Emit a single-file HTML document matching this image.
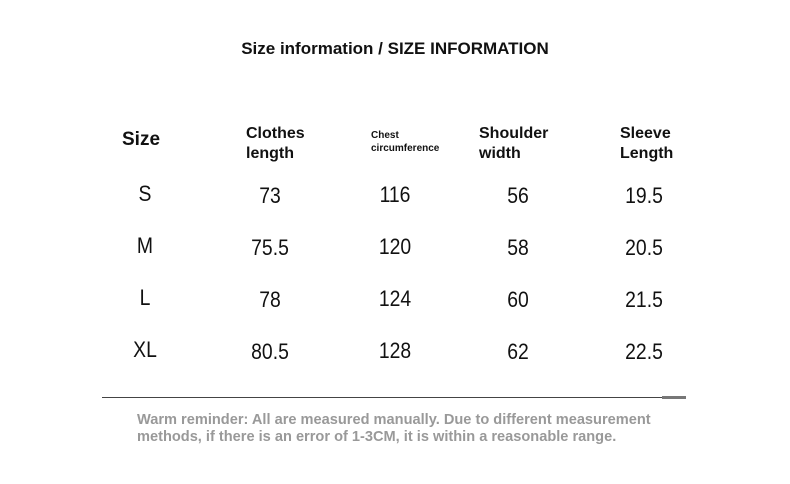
<!DOCTYPE html>
<html><head><style>
body{margin:0;width:790px;height:484px;background:#fff;position:relative;overflow:hidden;font-family:"Liberation Sans",sans-serif;color:#111}
.a{position:absolute;white-space:nowrap}
.h{font-weight:bold;font-size:16px;line-height:20px}
.n{font-size:22px;transform:translate(-50%,-50%) scaleX(0.88);}
</style></head><body>
<div class="a" style="left:0;width:790px;text-align:center;top:39px;font-weight:bold;font-size:17px">Size information / SIZE INFORMATION</div>
<div class="a" style="left:122px;top:129px;font-weight:bold;font-size:19px">Size</div>
<div class="a h" style="left:246px;top:124px">Clothes<br>length</div>
<div class="a" style="left:371px;top:129px;font-weight:bold;font-size:10px;line-height:13px">Chest<br>circumference</div>
<div class="a h" style="left:479px;top:124px">Shoulder<br>width</div>
<div class="a h" style="left:620px;top:124px">Sleeve<br>Length</div>

<div class="a n" style="left:145px;top:194px">S</div>
<div class="a n" style="left:270px;top:196px">73</div>
<div class="a n" style="left:395px;top:195px">116</div>
<div class="a n" style="left:518px;top:196px">56</div>
<div class="a n" style="left:644px;top:196px">19.5</div>

<div class="a n" style="left:145px;top:246px">M</div>
<div class="a n" style="left:270px;top:248px">75.5</div>
<div class="a n" style="left:395px;top:247px">120</div>
<div class="a n" style="left:518px;top:248px">58</div>
<div class="a n" style="left:644px;top:248px">20.5</div>

<div class="a n" style="left:145px;top:298px">L</div>
<div class="a n" style="left:270px;top:300px">78</div>
<div class="a n" style="left:395px;top:299px">124</div>
<div class="a n" style="left:518px;top:300px">60</div>
<div class="a n" style="left:644px;top:300px">21.5</div>

<div class="a n" style="left:145px;top:350px">XL</div>
<div class="a n" style="left:270px;top:352px">80.5</div>
<div class="a n" style="left:395px;top:351px">128</div>
<div class="a n" style="left:518px;top:352px">62</div>
<div class="a n" style="left:644px;top:352px">22.5</div>

<div class="a" style="left:102px;top:397px;width:584px;height:1px;background:#444"></div>
<div class="a" style="left:662px;top:396px;width:24px;height:3px;background:#777"></div>
<div class="a" style="left:137px;top:412px;font-weight:bold;font-size:14.6px;line-height:17px;color:#999">Warm reminder: All are measured manually. Due to different measurement<br>methods, if there is an error of 1-3CM, it is within a reasonable range.</div>
</body></html>
